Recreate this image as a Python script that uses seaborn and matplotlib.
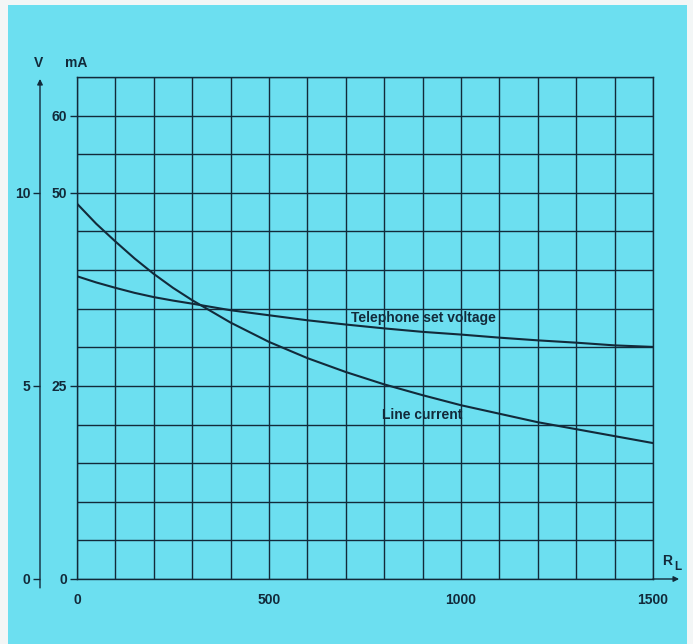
import pandas as pd
import matplotlib
matplotlib.use("Agg")
import matplotlib.pyplot as plt
from matplotlib.patches import Rectangle
import seaborn as sns

# Data
r_load = [0, 50, 100, 150, 200, 250, 300, 400, 500, 600, 700, 800, 900, 1000, 1100, 1200, 1300, 1400, 1500]
line_current_ma = [48.6, 46.0, 43.7, 41.5, 39.5, 37.7, 36.1, 33.2, 30.7, 28.6, 26.8, 25.2, 23.8, 22.5, 21.4, 20.3, 19.4, 18.5, 17.6]
set_voltage_v = [7.84, 7.68, 7.54, 7.41, 7.30, 7.21, 7.13, 6.96, 6.83, 6.70, 6.59, 6.49, 6.40, 6.33, 6.25, 6.18, 6.12, 6.05, 6.01]

x_labels = [0, 500, 1000, 1500]
ma_labels = [0, 25, 50, 60]
v_labels = [0, 5, 10]

BLUE = "#6cdff0"
INK = "#122a3a"
W, H = 693, 644
FS = 10

sns.set_theme(style="white")
plt.rcParams["font.family"] = ["Liberation Sans", "DejaVu Sans"]
plt.rcParams["font.weight"] = "bold"

df = pd.DataFrame({"R_L": r_load, "I": line_current_ma, "V": set_voltage_v})

fig = plt.figure(figsize=(W / 100, H / 100), dpi=100)
fig.patch.set_facecolor("#f3f6f6")
fig.add_artist(Rectangle((8 / W, 0), (687 - 8) / W, (H - 5) / H, transform=fig.transFigure,
                         facecolor=BLUE, edgecolor="none", zorder=0))

ax = fig.add_axes([77 / W, (H - 579) / H, 576 / W, 502 / H])
ax.set_facecolor("none")
sns.lineplot(data=df, x="R_L", y="I", ax=ax, color=INK, lw=1.5, zorder=5)
ax.set_xlim(0, 1500)
ax.set_ylim(0, 65)
ax.set_xlabel("")
ax.set_ylabel("")

# grid: every 100 ohm and every 5 mA
ax.set_xticks(x_labels)
ax.set_xticks(range(0, 1501, 100), minor=True)
ax.set_yticks(ma_labels)
ax.set_yticks(range(0, 66, 5), minor=True)
ax.grid(which="both", color=INK, lw=1.0)
ax.tick_params(which="minor", length=0)
ax.tick_params(axis="x", which="major", direction="out", length=5, width=1, pad=5,
               colors=INK, labelsize=FS)
ax.tick_params(axis="y", which="major", direction="out", length=5, width=1, pad=2,
               colors=INK, labelsize=FS)
for s in ax.spines.values():
    s.set_color(INK)
    s.set_linewidth(1.0)

# x axis arrow
ax.annotate("", xy=(1568, 0), xytext=(1500, 0),
            arrowprops=dict(arrowstyle="-|>", color=INK, lw=1.0, mutation_scale=8,
                            shrinkA=0, shrinkB=0), annotation_clip=False)

# voltage axis on the far left (37 px left of the grid)
ax2 = ax.twinx()
sns.lineplot(data=df, x="R_L", y="V", ax=ax2, color=INK, lw=1.5, zorder=5)
ax2.set_ylim(0, 13)
ax2.set_xlabel("")
ax2.set_ylabel("")
ax2.yaxis.tick_left()
ax2.spines["left"].set_position(("outward", 37 * 0.72))
for side in ["right", "top", "bottom", "left"]:
    ax2.spines[side].set_visible(False)
ax2.set_yticks(v_labels)
ax2.tick_params(axis="y", direction="out", length=5, width=1, pad=2, colors=INK, labelsize=FS)
ax2.annotate("", xy=(-37 / 576, 12.95), xytext=(-37 / 576, -0.23),
             xycoords=("axes fraction", "data"),
             arrowprops=dict(arrowstyle="-|>", color=INK, lw=1.0, mutation_scale=8,
                             shrinkA=0, shrinkB=0), annotation_clip=False)

# labels
fig.text(39 / W, 1 - 63 / H, "V", ha="center", va="center", color=INK, fontsize=FS, fontweight="bold")
fig.text(76 / W, 1 - 63 / H, "mA", ha="center", va="center", color=INK, fontsize=FS, fontweight="bold")
fig.text(667 / W, 1 - 561 / H, "R", ha="center", va="center", color=INK, fontsize=FS, fontweight="bold")
fig.text(678 / W, 1 - 567 / H, "L", ha="center", va="center", color=INK, fontsize=8.5, fontweight="bold")
ax.text(714, 33.8, "Telephone set voltage", ha="left", va="center", color=INK, fontsize=FS,
        fontweight="bold", zorder=6)
ax.text(794, 21.2, "Line current", ha="left", va="center", color=INK, fontsize=FS,
        fontweight="bold", zorder=6)

fig.savefig("out.png", dpi=100, facecolor=fig.get_facecolor())
